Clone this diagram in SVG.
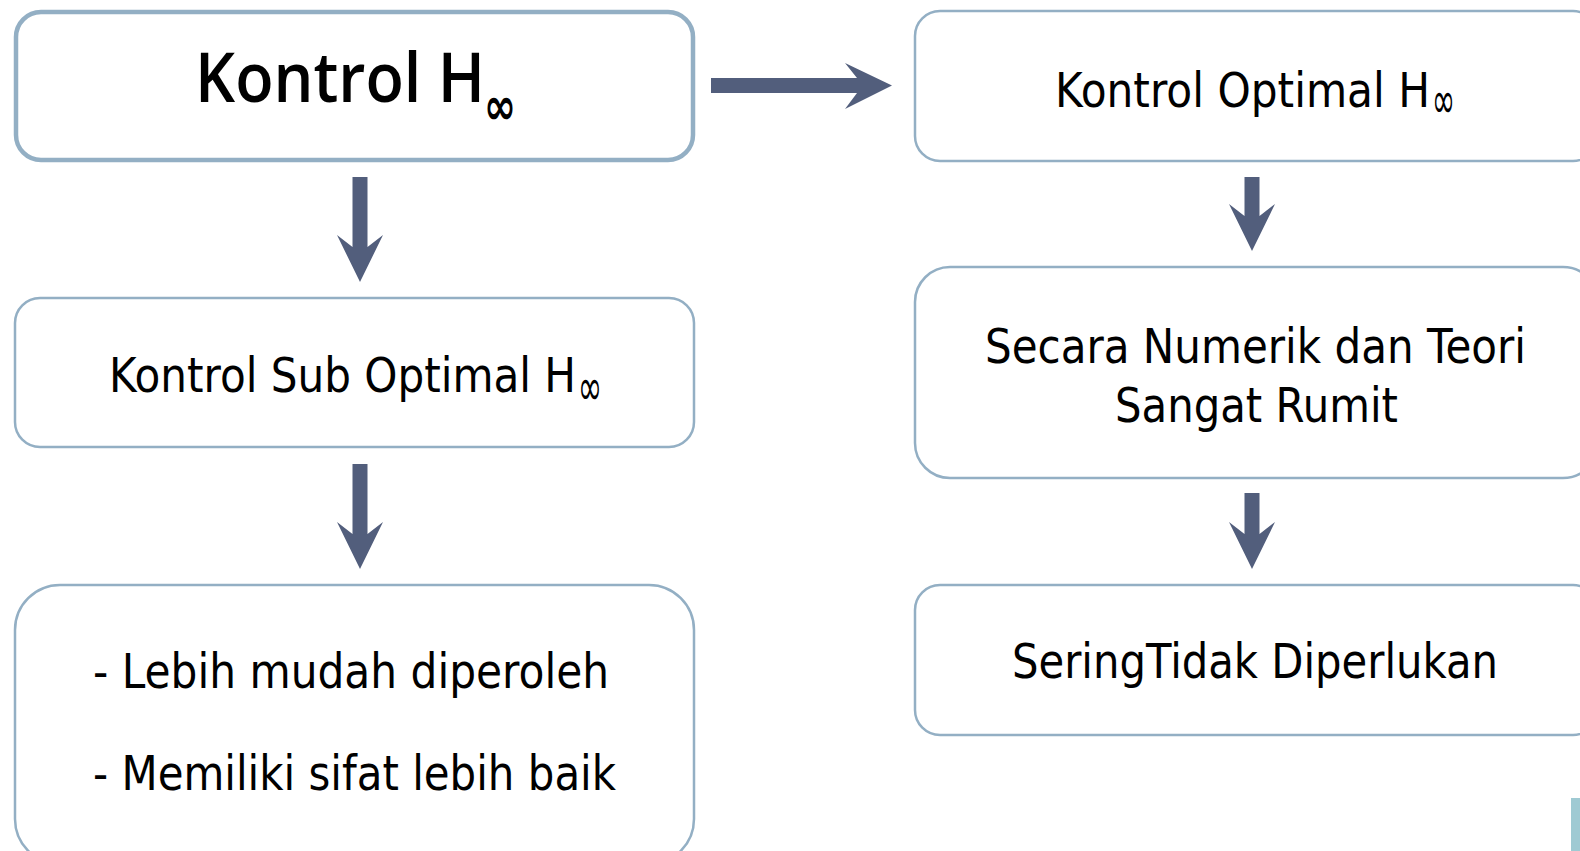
<svg xmlns="http://www.w3.org/2000/svg" width="1580" height="851" viewBox="0 0 1580 851">
<style>
.box{fill:#ffffff;stroke:#93afc4;stroke-width:2.5}
.thick{stroke-width:4.5}
.t{font-family:"DejaVu Sans","Liberation Sans",sans-serif;font-size:48px;fill:#000}
.inf{font-family:"DejaVu Sans","Liberation Sans",sans-serif;font-size:52px;fill:#000}
.title{font-family:"Open Sans","DejaVu Sans",sans-serif;font-weight:600;font-size:68px;fill:#000}
.arrow{fill:#525e7c}
</style>
<rect width="1580" height="851" fill="#ffffff"/>
<g id="connectors">
<polygon class="arrow" points="711,78 857,78 845,63 892,85.5 845,109 857,93 711,93"/>
<polygon class="arrow" points="352.5,177 367.5,177 367.5,247 383,235 360,282 337,235 352.5,247"/>
<polygon class="arrow" points="352.5,464 367.5,464 367.5,534 383,522 360,569 337,522 352.5,534"/>
<polygon class="arrow" points="1244.5,177 1259.5,177 1259.5,216 1275,204 1252,251 1229,204 1244.5,216"/>
<polygon class="arrow" points="1244.5,493 1259.5,493 1259.5,534 1275,522 1252,569 1229,522 1244.5,534"/>
</g>
<g id="node-kontrol-h">
<rect class="box thick" x="16" y="12" width="677" height="148" rx="25"/>
<text class="title" x="195" y="102" textLength="290" lengthAdjust="spacingAndGlyphs">Kontrol H</text>
<text class="inf" x="484" y="124" font-size="70" font-weight="bold" textLength="32" lengthAdjust="spacingAndGlyphs">∞</text>
</g>
<g id="node-optimal">
<rect class="box" x="915" y="11" width="683" height="150" rx="25"/>
<text class="t" x="1055" y="107" font-size="49" textLength="375" lengthAdjust="spacingAndGlyphs">Kontrol Optimal H</text>
<text class="inf" x="1432" y="118" textLength="23" lengthAdjust="spacingAndGlyphs">∞</text>
</g>
<g id="node-sub-optimal">
<rect class="box" x="15" y="298" width="679" height="149" rx="25"/>
<text class="t" x="109" y="392" textLength="467" lengthAdjust="spacingAndGlyphs">Kontrol Sub Optimal H</text>
<text class="inf" x="578" y="405" textLength="24" lengthAdjust="spacingAndGlyphs">∞</text>
</g>
<g id="node-kelebihan">
<rect class="box" x="15" y="585" width="679" height="279" rx="45"/>
<text class="t" x="93" y="688" textLength="516" lengthAdjust="spacingAndGlyphs">- Lebih mudah diperoleh</text>
<text class="t" x="93" y="790" textLength="523" lengthAdjust="spacingAndGlyphs">- Memiliki sifat lebih baik</text>
</g>
<g id="node-rumit">
<rect class="box" x="915" y="267" width="683" height="211" rx="35"/>
<text class="t" x="985" y="363" textLength="541" lengthAdjust="spacingAndGlyphs">Secara Numerik dan Teori</text>
<text class="t" x="1115" y="422" textLength="283" lengthAdjust="spacingAndGlyphs">Sangat Rumit</text>
</g>
<g id="node-tidak-diperlukan">
<rect class="box" x="915" y="585" width="683" height="150" rx="25"/>
<text class="t" x="1012" y="678" textLength="486" lengthAdjust="spacingAndGlyphs">SeringTidak Diperlukan</text>
</g>
<rect x="1571" y="798" width="9" height="53" fill="#9fcad3"/>
</svg>
